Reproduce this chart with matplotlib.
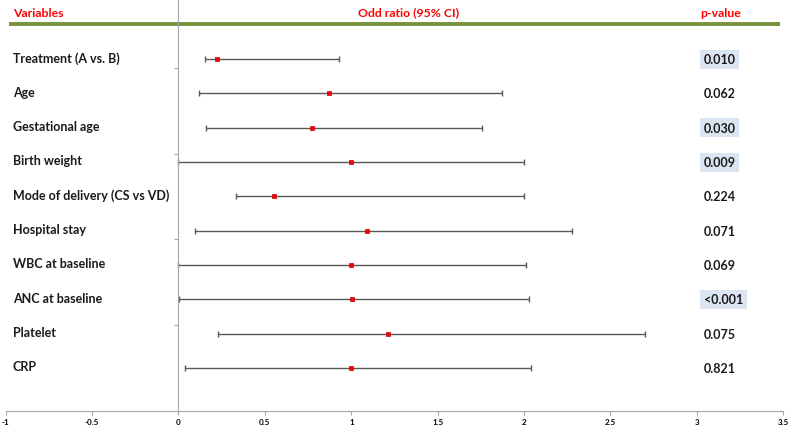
import matplotlib
import matplotlib.pyplot as plt
import numpy as np

matplotlib.use("Agg")
plt.rcParams["font.family"] = ["Lato", "DejaVu Sans"]

variables = ["Treatment (A vs. B)", "Age", "Gestational age", "Birth weight",
             "Mode of delivery (CS vs VD)", "Hospital stay", "WBC at baseline",
             "ANC at baseline", "Platelet", "CRP"]
odds = [0.225, 0.87, 0.77, 1.0, 0.555, 1.09, 1.0, 1.005, 1.21, 0.998]
lower = [0.155, 0.12, 0.16, 0.0, 0.335, 0.095, 0.0, 0.005, 0.23, 0.035]
upper = [0.93, 1.87, 1.755, 2.0, 2.0, 2.28, 2.01, 2.03, 2.70, 2.04]
pvalues = ["0.010", "0.062", "0.030", "0.009", "0.224", "0.071", "0.069",
           "<0.001", "0.075", "0.821"]
highlight = [True, False, True, True, False, False, False, True, False, False]
xticks = [-1, -0.5, 0, 0.5, 1, 1.5, 2, 2.5, 3, 3.5]

odds = np.array(odds)
err = [odds - np.array(lower), np.array(upper) - odds]
ypos = np.arange(len(variables))[::-1] + 1.25

fig = plt.figure(figsize=(7.9, 4.31), dpi=100)
ax = fig.add_axes([0.0072, 0.044, 0.9843, 0.956])

ax.errorbar(odds, ypos, xerr=err, fmt="none", ecolor="#595959",
            elinewidth=1, capsize=2.5, capthick=1)
ax.plot(odds, ypos, "s", color="#ff0000", markersize=3.2,
        markeredgecolor="#c00000", markeredgewidth=0.5)

ax.set_xlim(-1, 3.5)
ax.set_ylim(0, 12)
ax.set_xticks(xticks)
ax.set_xticklabels([str(t) for t in xticks], fontsize=5.8, fontweight="bold")
ax.set_yticks([0, 2.5, 5, 7.5, 10])
ax.set_yticklabels([])
ax.tick_params(axis="both", direction="out", length=3, color="#a6a6a6", pad=2)

for s in ["top", "right"]:
    ax.spines[s].set_visible(False)
ax.spines["left"].set_position(("data", 0))
ax.spines["left"].set_color("#a6a6a6")
ax.spines["bottom"].set_color("#a6a6a6")

# header
ax.plot([-0.98, 3.48], [11.27, 11.27], color="#77933c", linewidth=2.8,
        solid_capstyle="butt", clip_on=False)
ax.text(-0.96, 11.62, "Variables", color="#ff0000", fontsize=8.8,
        fontweight="bold", va="center", ha="left")
ax.text(1.33, 11.62, "Odd ratio (95% CI)", color="#ff0000", fontsize=8.8,
        fontweight="bold", va="center", ha="center")
ax.text(3.14, 11.62, "p-value", color="#ff0000", fontsize=8.8,
        fontweight="bold", va="center", ha="center")

for y, name, p, h in zip(ypos, variables, pvalues, highlight):
    ax.text(-0.96, y + 0.05, name, fontsize=9, fontweight="bold",
            color="#1a1a1a", va="center", ha="left")
    bbox = dict(facecolor="#dbe5f1", edgecolor="none", pad=2.5) if h else None
    ax.text(3.04, y, p, fontsize=9, fontweight="bold", color="#1a1a1a",
            va="center", ha="left", bbox=bbox)

fig.savefig("out.png", dpi=100)
